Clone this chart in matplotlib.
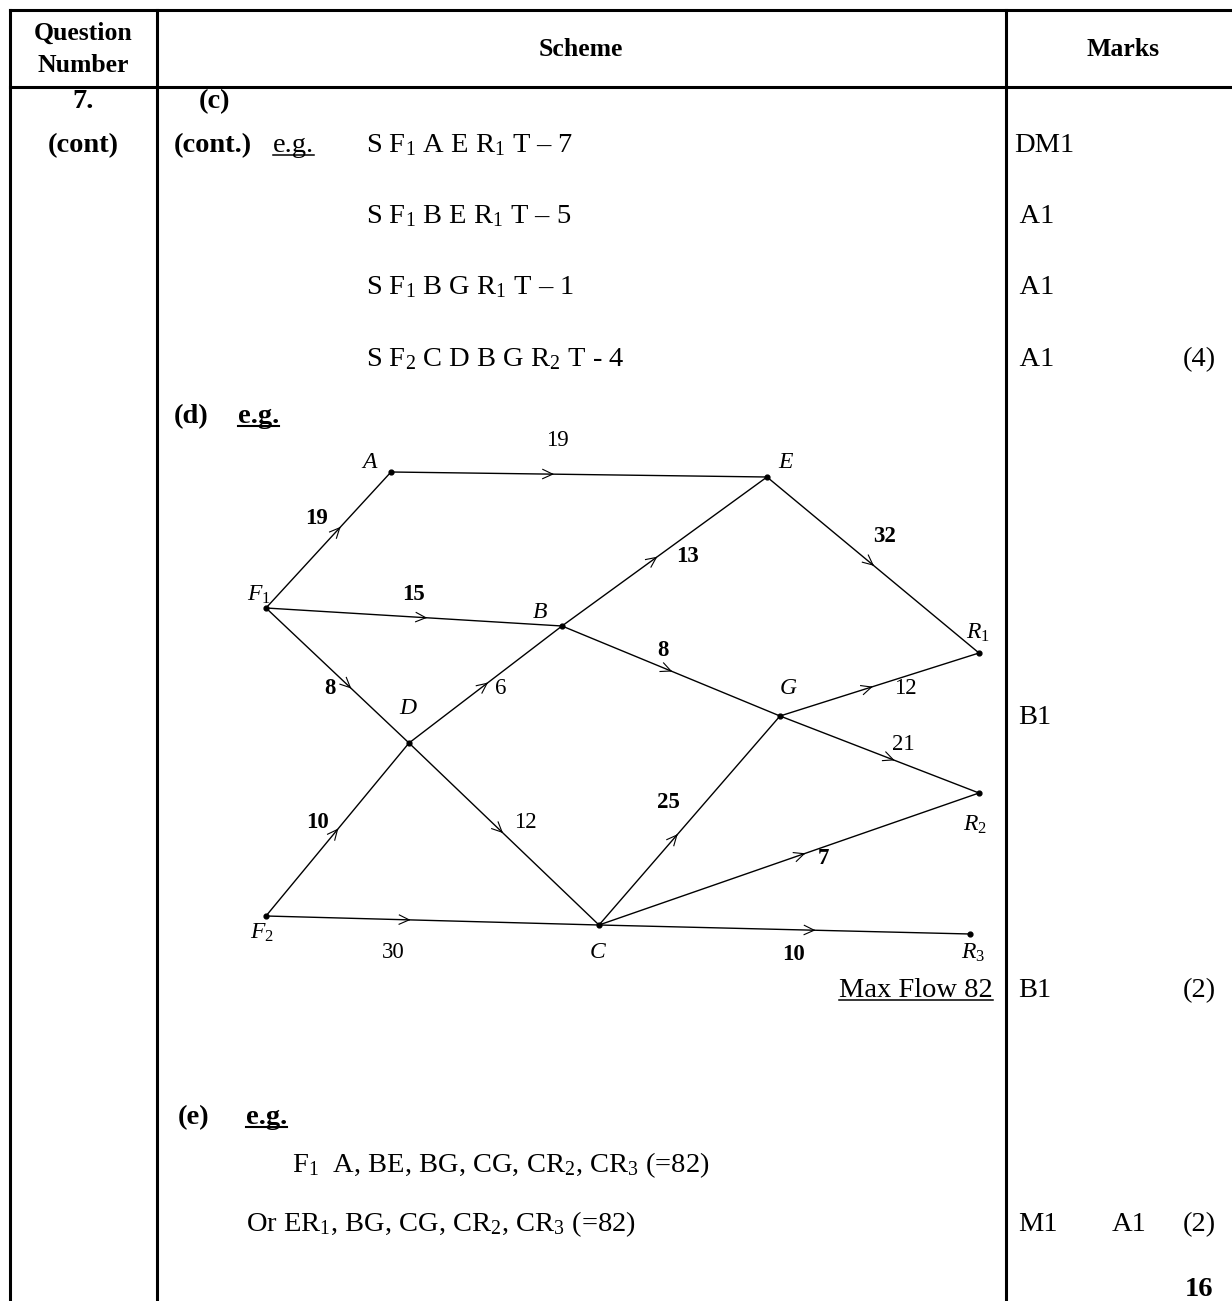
import numpy as np
import matplotlib
matplotlib.use("Agg")
import matplotlib.pyplot as plt

plt.rcParams['font.family'] = ['Liberation Serif', 'DejaVu Serif']
plt.rcParams['mathtext.fontset'] = 'custom'
plt.rcParams['mathtext.rm'] = 'Liberation Serif'
plt.rcParams['mathtext.it'] = 'Liberation Serif:italic'
plt.rcParams['mathtext.bf'] = 'Liberation Serif:bold'

# network nodes (drawing positions, pixel space of the page)
node_names = ['A', 'E', 'F1', 'B', 'R1', 'G', 'D', 'R2', 'F2', 'C', 'R3']
node_x = [391, 767, 266, 562, 979, 780, 409, 979, 266, 599, 970]
node_y = [472, 477, 608, 626, 653, 716, 743, 793, 916, 925, 934]
node_text = [r'$A$', r'$E$', r'$F_1$', r'$B$', r'$R_1$', r'$G$', r'$D$',
             r'$R_2$', r'$F_2$', r'$C$', r'$R_3$']
node_lab_x = [370, 786, 259, 540, 978, 788, 408, 975, 262, 598, 973]
node_lab_y = [463, 462, 595, 613, 633, 688, 708, 825, 933, 953, 953]

# edges and their flows
edge_from = ['F1', 'A', 'F1', 'F1', 'D', 'B', 'E', 'B', 'G', 'G', 'F2', 'D', 'C', 'C', 'F2', 'C']
edge_to = ['A', 'E', 'B', 'D', 'B', 'E', 'R1', 'G', 'R1', 'R2', 'D', 'C', 'G', 'R2', 'C', 'R3']
edge_flow = [19, 19, 15, 8, 6, 13, 32, 8, 12, 21, 10, 12, 25, 7, 30, 10]
edge_bold = [True, False, True, True, False, True, True, True, False, False,
             True, False, True, True, False, True]
arrow_pos = [0.59, 0.43, 0.54, 0.59, 0.51, 0.46, 0.50, 0.50, 0.46, 0.57,
             0.50, 0.49, 0.43, 0.54, 0.43, 0.58]
flow_lab_x = [317, 557, 413, 330, 501, 688, 885, 663, 905, 903, 317, 525, 668, 823, 393, 793]
flow_lab_y = [518, 440, 595, 688, 688, 557, 537, 650, 688, 745, 822, 822, 803, 858, 953, 955]

# scheme text
paths_c = [r'S F$_1$ A E R$_1$ T – 7', r'S F$_1$ B E R$_1$ T – 5',
           r'S F$_1$ B G R$_1$ T – 1', r'S F$_2$ C D B G R$_2$ T - 4']
marks_c = ['DM1', ' A1', ' A1', ' A1']
rows_c = [152, 223, 294, 366]
cut_lines = [r'F$_1$  A, BE, BG, CG, CR$_2$, CR$_3$ (=82)',
             r'Or ER$_1$, BG, CG, CR$_2$, CR$_3$ (=82)']

W, H = 1232, 1301
fig = plt.figure(figsize=(W / 100, H / 100), dpi=100)
ax = fig.add_axes([0, 0, 1, 1])
ax.set_xlim(0, W)
ax.set_ylim(H, 0)
ax.axis('off')

# table frame
lw_t = 2.2
ax.plot([10, W], [10, 10], color='black', lw=lw_t)
ax.plot([10, W], [87, 87], color='black', lw=lw_t)
for xv in [10, 157, 1006]:
    ax.plot([xv, xv], [10, H], color='black', lw=lw_t)

FS = 20.5
ax.text(83, 33, 'Question', ha='center', va='center', fontsize=18.5, fontweight='bold')
ax.text(83, 65, 'Number', ha='center', va='center', fontsize=18.5, fontweight='bold')
ax.text(581, 49, 'Scheme', ha='center', va='center', fontsize=18.5, fontweight='bold')
ax.text(1123, 49, 'Marks', ha='center', va='center', fontsize=18.5, fontweight='bold')

ax.text(83, 108, '7.', ha='center', va='baseline', fontsize=FS, fontweight='bold')
ax.text(83, 152, '(cont)', ha='center', va='baseline', fontsize=FS, fontweight='bold')
ax.text(215, 108, '(c)', ha='center', va='baseline', fontsize=FS, fontweight='bold')
ax.text(174, 152, '(cont.)', ha='left', va='baseline', fontsize=FS, fontweight='bold')

underlined = []
underlined.append(ax.text(273, 152, 'e.g.', ha='left', va='baseline', fontsize=FS))

for txt, mk, yb in zip(paths_c, marks_c, rows_c):
    ax.text(366, yb, txt, ha='left', va='baseline', fontsize=FS)
    ax.text(1014, yb, mk, ha='left', va='baseline', fontsize=FS)
ax.text(1216, rows_c[-1], '(4)', ha='right', va='baseline', fontsize=FS)

# part (d)
ax.text(174, 423, '(d)', ha='left', va='baseline', fontsize=FS, fontweight='bold')
underlined.append(ax.text(238, 423, 'e.g.', ha='left', va='baseline', fontsize=FS,
                          fontweight='bold'))

pos = {n: (x, y) for n, x, y in zip(node_names, node_x, node_y)}
for a, b, fl, bd, fr, lx, ly in zip(edge_from, edge_to, edge_flow, edge_bold,
                                    arrow_pos, flow_lab_x, flow_lab_y):
    x0, y0 = pos[a]
    x1, y1 = pos[b]
    ax.plot([x0, x1], [y0, y1], color='black', lw=1.0, solid_capstyle='round')
    d = np.array([x1 - x0, y1 - y0], dtype=float)
    d /= np.hypot(*d)
    tip = np.array([x0, y0]) + fr * np.array([x1 - x0, y1 - y0])
    for s in (1, -1):
        ang = np.deg2rad(25) * s
        rot = np.array([[np.cos(ang), -np.sin(ang)], [np.sin(ang), np.cos(ang)]])
        wing = tip - 11 * rot.dot(d)
        ax.plot([tip[0], wing[0]], [tip[1], wing[1]], color='black', lw=0.8)
    ax.text(lx, ly, str(fl), ha='center', va='center', fontsize=16.5,
            fontweight='bold' if bd else 'normal')

ax.scatter(node_x, node_y, s=12, color='black', zorder=3)
for t, lx, ly in zip(node_text, node_lab_x, node_lab_y):
    ax.text(lx, ly, t, ha='center', va='center', fontsize=17)

ax.text(1018, 724, 'B1', ha='left', va='baseline', fontsize=FS)
underlined.append(ax.text(993, 997, 'Max Flow 82', ha='right', va='baseline', fontsize=FS))
ax.text(1018, 997, 'B1', ha='left', va='baseline', fontsize=FS)
ax.text(1216, 997, '(2)', ha='right', va='baseline', fontsize=FS)

# part (e)
ax.text(178, 1124, '(e)', ha='left', va='baseline', fontsize=FS, fontweight='bold')
underlined.append(ax.text(246, 1124, 'e.g.', ha='left', va='baseline', fontsize=FS,
                          fontweight='bold'))
ax.text(292, 1172, cut_lines[0], ha='left', va='baseline', fontsize=FS)
ax.text(246, 1231, cut_lines[1], ha='left', va='baseline', fontsize=FS)
ax.text(1018, 1231, 'M1', ha='left', va='baseline', fontsize=FS)
ax.text(1112, 1231, 'A1', ha='left', va='baseline', fontsize=FS)
ax.text(1216, 1231, '(2)', ha='right', va='baseline', fontsize=FS)
ax.text(1213, 1296, '16', ha='right', va='baseline', fontsize=FS, fontweight='bold')

# underlines
fig.canvas.draw()
rend = fig.canvas.get_renderer()
inv = ax.transData.inverted()
for t in underlined:
    bb = t.get_window_extent(rend)
    xa = inv.transform((bb.x0, 0))[0]
    xb = inv.transform((bb.x1, 0))[0]
    yb = t.get_position()[1] + 3
    ax.plot([xa, xb], [yb, yb], color='black', lw=1.5 if t.get_fontweight() == 'bold' else 1.1)

fig.savefig('out.png', dpi=100)
